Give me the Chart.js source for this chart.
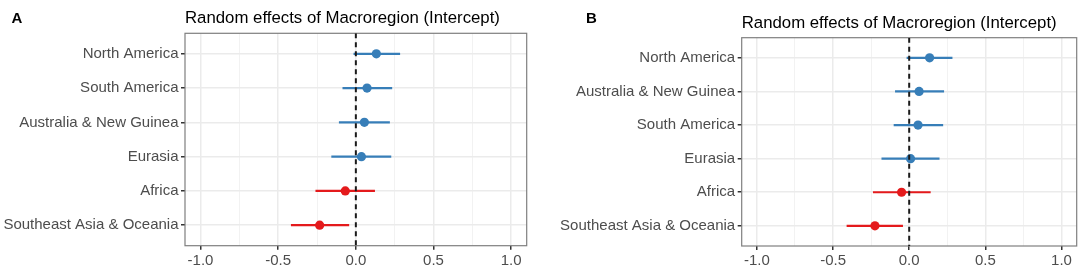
<!DOCTYPE html>
<html>
<head>
<meta charset="utf-8">
<script src="https://cdn.jsdelivr.net/npm/chart.js@4.4.1/dist/chart.umd.min.js"></script>
<style>
  html, body { margin: 0; padding: 0; background: #ffffff; }
  #wrap { position: relative; width: 1084px; height: 273px; }
  .panel { position: absolute; top: 0; height: 273px; }
  #pa { left: 0; width: 540px; }
  #pb { left: 540px; width: 544px; }
</style>
</head>
<body>
<div id="wrap">
  <div class="panel" id="pa"><canvas id="chartA" width="540" height="273"></canvas></div>
  <div class="panel" id="pb"><canvas id="chartB" width="544" height="273"></canvas></div>
</div>
<script>
// ---------- data ----------
const titleText = "Random effects of Macroregion (Intercept)";
const panelLetters = ["A", "B"];

const categoriesA = ["North America", "South America", "Australia & New Guinea", "Eurasia", "Africa", "Southeast Asia & Oceania"];
const estimateA = [0.132, 0.072, 0.055, 0.036, -0.068, -0.233];
const lowerA    = [-0.015, -0.086, -0.109, -0.158, -0.260, -0.418];
const upperA    = [0.285, 0.234, 0.219, 0.228, 0.123, -0.043];

const categoriesB = ["North America", "Australia & New Guinea", "South America", "Eurasia", "Africa", "Southeast Asia & Oceania"];
const estimateB = [0.134, 0.065, 0.058, 0.009, -0.050, -0.225];
const lowerB    = [-0.017, -0.093, -0.102, -0.182, -0.238, -0.411];
const upperB    = [0.284, 0.229, 0.223, 0.199, 0.141, -0.041];

const xMajorTicks = [-1.0, -0.5, 0.0, 0.5, 1.0];
const xMinorTicks = [-0.75, -0.25, 0.25, 0.75];
const xTickLabels = ["-1.0", "-0.5", "0.0", "0.5", "1.0"];
const referenceLine = 0;

// ---------- styles ----------
const BLUE = "#377EB8";
const RED = "#E41A1C";
const FONT = "'Liberation Sans', Arial, Helvetica, sans-serif";
const LABEL_COLOR = "#4D4D4D";

function buildChart(canvasId, letter, cats, est, lo, hi, geom) {
  const n = cats.length;
  const colorOf = v => (v >= 0 ? BLUE : RED);

  const errorSets = cats.map((c, i) => ({
    type: "line",
    data: [{ x: lo[i], y: i }, { x: hi[i], y: i }],
    borderColor: colorOf(est[i]),
    borderWidth: 2.2,
    pointRadius: 0,
    fill: false,
    order: 2
  }));

  const pointSet = {
    type: "scatter",
    data: est.map((v, i) => ({ x: v, y: i })),
    pointRadius: 4.6,
    pointBackgroundColor: est.map(colorOf),
    pointBorderColor: est.map(colorOf),
    pointBorderWidth: 0,
    order: 1
  };

  const vline = {
    type: "line",
    data: [{ x: referenceLine, y: -0.6 }, { x: referenceLine, y: n - 1 + 0.6 }],
    borderColor: "#1a1a1a",
    borderWidth: 2,
    borderDash: [5, 4],
    pointRadius: 0,
    fill: false,
    order: 0
  };

  const allX = xMajorTicks.concat(xMinorTicks).sort((a, b) => a - b);
  const isMajor = c => xMajorTicks.includes(c.tick && c.tick.value);

  const decor = {
    id: "decor" + canvasId,
    beforeDatasetsDraw(chart) {
      const { ctx, chartArea } = chart;
      ctx.save();
      ctx.strokeStyle = "#7f7f7f";
      ctx.lineWidth = 1.2;
      ctx.strokeRect(chartArea.left, chartArea.top, chartArea.right - chartArea.left, chartArea.bottom - chartArea.top);
      ctx.restore();
    },
    afterDraw(chart) {
      const { ctx, chartArea } = chart;
      ctx.save();
      ctx.fillStyle = "#000";
      ctx.textBaseline = "alphabetic";
      ctx.textAlign = "left";
      ctx.font = "bold 15px " + FONT;
      ctx.fillText(letter, geom.letterX, 22.7);
      ctx.font = "16.8px " + FONT;
      ctx.fillText(titleText, chartArea.left, geom.titleY);
      ctx.restore();
    }
  };

  return new Chart(document.getElementById(canvasId), {
    type: "scatter",
    data: { datasets: [vline, pointSet].concat(errorSets) },
    options: {
      responsive: false,
      animation: false,
      layout: { padding: { top: geom.top, right: geom.right, bottom: 0, left: 0 } },
      plugins: { legend: { display: false }, tooltip: { enabled: false }, title: { display: false } },
      scales: {
        x: {
          type: "linear",
          min: -1.1,
          max: 1.1,
          afterBuildTicks: s => { s.ticks = allX.map(v => ({ value: v })); },
          afterFit: s => { s.height = geom.xHeight; },
          border: { display: false },
          grid: {
            color: c => (isMajor(c) ? "#EBEBEB" : "#F2F2F2"),
            lineWidth: c => (isMajor(c) ? 1.5 : 1),
            tickColor: c => (isMajor(c) ? "#333333" : "rgba(0,0,0,0)"),
            tickLength: 4,
            drawTicks: true
          },
          ticks: {
            autoSkip: false,
            maxRotation: 0,
            padding: 2,
            color: LABEL_COLOR,
            font: { family: FONT, size: 15 },
            callback: v => {
              const k = xMajorTicks.indexOf(v);
              return k >= 0 ? xTickLabels[k] : "";
            }
          }
        },
        y: {
          type: "linear",
          reverse: true,
          min: -0.6,
          max: n - 1 + 0.6,
          afterBuildTicks: s => { s.ticks = cats.map((c, i) => ({ value: i })); },
          afterFit: s => { s.width = geom.yWidth; },
          border: { display: false },
          grid: {
            color: "#EBEBEB",
            lineWidth: 1.5,
            tickColor: "#333333",
            tickLength: 4
          },
          ticks: {
            autoSkip: false,
            padding: 2.5,
            color: LABEL_COLOR,
            font: { family: FONT, size: 15 },
            callback: v => cats[v]
          }
        }
      }
    },
    plugins: [decor]
  });
}

buildChart("chartA", panelLetters[0], categoriesA, estimateA, lowerA, upperA,
  { top: 33.3, right: 13.3, xHeight: 27.3, yWidth: 185, letterX: 11.5, titleY: 23.3 });
buildChart("chartB", panelLetters[1], categoriesB, estimateB, lowerB, upperB,
  { top: 37.7, right: 7.3, xHeight: 27, yWidth: 201.7, letterX: 46, titleY: 27.5 });
</script>
</body>
</html>
